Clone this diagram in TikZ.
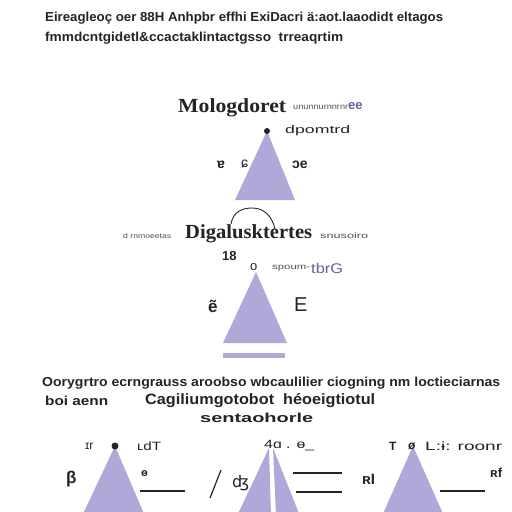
\documentclass[tikz,border=0pt]{standalone}
\usepackage{fontspec}
\setmainfont{Liberation Sans}
\newfontfamily\serifb{Liberation Serif}
\newfontfamily\dv{DejaVu Sans}
\usepackage{graphicx}
\newcommand\fitw[2]{\resizebox{#1}{\height}{#2}}
\definecolor{ink}{RGB}{35,35,40}
\definecolor{lav}{RGB}{176,168,216}
\definecolor{purp}{RGB}{105,95,160}
\definecolor{soft}{RGB}{80,80,88}
\tikzset{
  txt/.style={inner sep=0pt, text=ink, anchor=west},
  body/.style={txt, font=\bfseries\fontsize{13}{13}\selectfont},
  tiny/.style={txt, text=soft, font=\fontsize{8}{8}\selectfont},
  ttl/.style={txt, font=\serifb\bfseries\fontsize{20}{20}\selectfont},
  tri/.style={fill=lav, draw=none},
  rule/.style={draw=ink, line width=1.6pt},
  apexdot/.style={circle, fill=ink, inner sep=0pt, minimum size=6pt}
}
\begin{document}
\begin{tikzpicture}[x=1pt,y=-1pt]
\useasboundingbox (0,0) rectangle (512,512);
\fill[white] (0,0) rectangle (512,512);
\clip (0,0) rectangle (512,512);

% header
\node[body] (h1) at (45,18) {\fitw{398pt}{Eireagleoç oer 88H Anhpbr effhi ExiDacri ä:aot.laaodidt eltagos}};
\node[body] (h2) at (45,38) {\fitw{298pt}{fmmdcntgidetl\&ccactaklintactgsso\ \ trreaqrtim}};

% first triangle group
\node[ttl] (m1) at (178,108) {\fitw{108pt}{Mologdoret}};
\node[tiny] (m1r) at (293,107) {\fitw{55pt}{ununnurnnrnr}};
\node[txt, text=purp, font=\bfseries\fontsize{13}{13}\selectfont] (m1e) at (348,106) {ee};
\fill[tri] (267,131) -- (295,200) -- (235,200) -- cycle;
\node[apexdot] (d1) at (267,131) {};
\node[txt, font=\fontsize{11}{11}\selectfont] (d1t) at (285,131) {\fitw{65pt}{dpomtrd}};
\node[txt, font=\bfseries\fontsize{14}{14}\selectfont] (l1a) at (217,165) {ɐ};
\node[txt, font=\fontsize{14}{14}\selectfont] (l1b) at (241,164) {ɕ};
\node[txt, font=\bfseries\fontsize{14}{14}\selectfont] (l1c) at (292,165) {ɔe};

% arc
\draw[ink, line width=0.9pt] (231,224) .. controls (233,212) and (242,208) .. (252,208) .. controls (264,208) and (272,216) .. (275,229);

% second group
\node[ttl] (m2) at (185,234) {\fitw{127pt}{Digalusktertes}};
\node[tiny, font=\fontsize{7}{7}\selectfont] (m2l) at (123,236) {\fitw{48pt}{d rnmoeetas}};
\node[tiny] (m2r) at (320,236) {\fitw{48pt}{snusoiro}};
\node[txt, font=\bfseries\fontsize{13}{13}\selectfont] (n18) at (222,256) {18};
\fill[tri] (256,272) -- (287,343) -- (223,343) -- cycle;
\node[txt, font=\fontsize{13}{13}\selectfont] (o2) at (250,267) {o};
\node[tiny] (s2) at (272,268) {\fitw{38pt}{spoum-}};
\node[txt, text=purp, font=\fontsize{14}{14}\selectfont] (s2p) at (311,268) {\fitw{32pt}{tbrG}};
\node[txt, font=\bfseries\fontsize{17}{17}\selectfont] (e2a) at (208,306) {ẽ};
\node[txt, font=\fontsize{20}{20}\selectfont] (e2b) at (294,305) {E};
\fill[lav] (223,353) rectangle (285,358);

% text block
\node[body] (b1) at (42,383) {\fitw{458pt}{Oorygrtro ecrngrauss aroobso wbcaulilier ciogning nm loctieciarnas}};
\node[body] (b2a) at (45,401) {\fitw{63pt}{boi aenn}};
\node[body, font=\bfseries\fontsize{15}{15}\selectfont] (b2b) at (145,401) {\fitw{230pt}{Cagiliumgotobot\ \ héoeigtiotul}};
\node[body] (b3) at (200,418) {\fitw{113pt}{sentaohorle}};

% bottom triangle A
\fill[tri] (115,446) -- (145,516) -- (82,516) -- cycle;
\node[apexdot, minimum size=7pt] (dA) at (115,446) {};
\node[txt, font=\fontsize{12}{12}\selectfont] (aL) at (85,446) {ɪr};
\node[txt, font=\fontsize{12}{12}\selectfont] (aR) at (137,446) {\fitw{24pt}{ʟdT}};
\node[txt, font=\bfseries\fontsize{17}{17}\selectfont] (aB) at (66,479) {β};
\node[txt, font=\bfseries\fontsize{11}{11}\selectfont] (aT) at (141,474) {ɵ};
\coordinate (aS) at (140,491);
\coordinate (aE) at (185,491);
\draw[rule] (aS) -- (aE);

% bottom triangle B (split)
\fill[tri] (269,448) -- (271,516) -- (237,516) -- cycle;
\fill[tri] (273,448) -- (300,516) -- (276,516) -- cycle;
\node[txt, font=\fontsize{12}{12}\selectfont] (bT) at (264,446) {\fitw{50pt}{4ɑ . ɵ\_}};
\coordinate (bs1) at (210,498);
\coordinate (bs2) at (221,470);
\draw[ink, line width=1.2pt] (bs1) -- (bs2);
\node[txt, font=\dv\fontsize{16}{16}\selectfont] (bG) at (232,483) {ʤ};
\coordinate (bl1a) at (293,473);
\coordinate (bl1b) at (342,473);
\coordinate (bl2a) at (296,492);
\coordinate (bl2b) at (342,492);
\draw[rule] (bl1a) -- (bl1b);
\draw[rule] (bl2a) -- (bl2b);

% bottom triangle C
\fill[tri] (413,446) -- (444,516) -- (382,516) -- cycle;
\node[txt, font=\bfseries\fontsize{12}{12}\selectfont] (cT) at (389,446) {T};
\node[txt, font=\bfseries\fontsize{12}{12}\selectfont] (cO) at (408,446) {ø};
\node[txt, font=\fontsize{12}{12}\selectfont] (cR) at (425,446) {\fitw{77pt}{L:ɨ: roonr}};
\node[txt, font=\bfseries\fontsize{15}{15}\selectfont] (cL) at (362,479) {ʀI};
\node[txt, font=\bfseries\fontsize{13}{13}\selectfont] (cF) at (490,473) {ʀf};
\coordinate (cS) at (440,491);
\coordinate (cE) at (485,491);
\draw[rule] (cS) -- (cE);
\end{tikzpicture}
\end{document}
